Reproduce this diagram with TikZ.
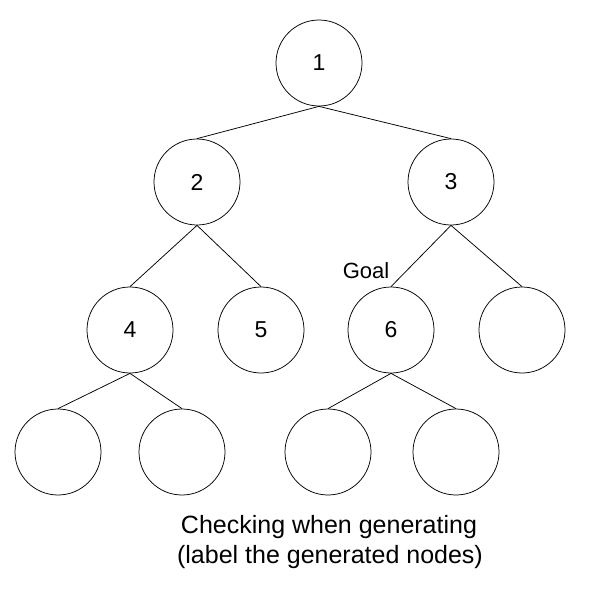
\documentclass[tikz,border=0pt]{standalone}
\usepackage{fontspec}
\setmainfont{Liberation Sans}
\begin{document}
\begin{tikzpicture}[x=1pt,y=-1pt,
  tn/.style={draw,circle,line width=0.75pt,minimum size=86pt,inner sep=0pt,font=\fontsize{23}{27}\selectfont},
  ed/.style={line width=0.75pt},
  lbl/.style={font=\fontsize{25}{29}\selectfont,inner sep=0pt}]
\useasboundingbox (0,0) rectangle (590,592);
\node[tn] (n1) at (319,63) {1};
\node[tn] (n2) at (197,182) {2};
\node[tn] (n3) at (451,182) {3};
\node[tn] (n4) at (130,330) {4};
\node[tn] (n5) at (261,330) {5};
\node[tn] (n6) at (391,330) {6};
\node[tn] (n7) at (522,330) {};
\node[tn] (n8) at (58,452) {};
\node[tn] (n9) at (182,452) {};
\node[tn] (n10) at (328,452) {};
\node[tn] (n11) at (456,452) {};
\draw[ed] (n1.south) -- (n2.north);
\draw[ed] (n1.south) -- (n3.north);
\draw[ed] (n2.south) -- (n4.north);
\draw[ed] (n2.south) -- (n5.north);
\draw[ed] (n3.south) -- (n6.north);
\draw[ed] (n3.south) -- (n7.north);
\draw[ed] (n4.south) -- (n8.north);
\draw[ed] (n4.south) -- (n9.north);
\draw[ed] (n6.south) -- (n10.north);
\draw[ed] (n6.south) -- (n11.north);
\node[lbl,font=\fontsize{22}{26}\selectfont] (goal) at (366,271) {Goal};
\node[lbl] (cap1) at (329,527) {Checking when generating};
\node[lbl] (cap2) at (330,557) {(label the generated nodes)};
\end{tikzpicture}
\end{document}
